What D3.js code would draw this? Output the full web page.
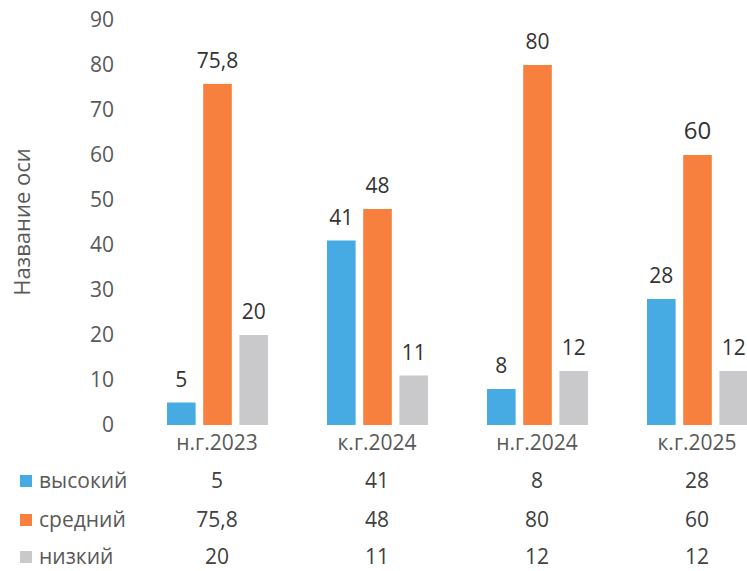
<!DOCTYPE html>
<html>
<head>
<meta charset="utf-8">
<script src="https://cdn.jsdelivr.net/npm/d3@7"></script>
<style>
  body { margin: 0; background: #fff; }
  text { font-family: "Open Sans", "DejaVu Sans", sans-serif; }
</style>
</head>
<body>
<div id="chart"></div>
<script>
// data
var categories = ["н.г.2023", "к.г.2024", "н.г.2024", "к.г.2025"];
var seriesNames = ["высокий", "средний", "низкий"];
var vysokiy = [5, 41, 8, 28];
var sredniy = [75.8, 48, 80, 60];
var nizkiy = [20, 11, 12, 12];
var valueLabels = [
  ["5", "41", "8", "28"],
  ["75,8", "48", "80", "60"],
  ["20", "11", "12", "12"]
];
var yTicks = [0, 10, 20, 30, 40, 50, 60, 70, 80, 90];
var colors = ["#45ABE2", "#F7803F", "#C9C9CB"];

var svgWidth = 747;
var svgHeight = 571;

var series = [vysokiy, sredniy, nizkiy];

var svg = d3.select("#chart")
    .append("svg")
    .attr("width", svgWidth)
    .attr("height", svgHeight);

var xScale = d3.scaleBand()
    .domain(categories)
    .range([137, 777]);

var inner = d3.scaleBand()
    .domain(seriesNames)
    .range([30, 131])
    .paddingInner(0.21);

var yScale = d3.scaleLinear()
    .domain([0, 90])
    .range([425, 20]);

// y axis labels (no line, no gridlines)
var leftAxis = d3.axisLeft(yScale).tickValues(yTicks).tickSize(0).tickPadding(0);
var yAxis = svg.append("g")
    .attr("transform", "translate(114,0)")
    .call(leftAxis);
yAxis.select(".domain").remove();
yAxis.selectAll("text")
    .attr("font-size", 21)
    .attr("font-family", "'Open Sans', sans-serif")
    .attr("fill", "#595959");

// axis title
svg.append("text")
    .attr("transform", "translate(30,222) rotate(-90)")
    .attr("text-anchor", "middle")
    .attr("font-size", 22)
    .attr("fill", "#595959")
    .text("Название оси");

// bars
series.forEach(function(vals, si) {
  var g = svg.append("g");
  g.selectAll("rect")
    .data(vals)
    .enter()
    .append("rect")
    .attr("x", function(d, i) { return xScale(categories[i]) + inner(seriesNames[si]); })
    .attr("y", function(d) { return yScale(d); })
    .attr("width", inner.bandwidth())
    .attr("height", function(d) { return yScale(0) - yScale(d); })
    .attr("fill", colors[si]);

  g.selectAll("text")
    .data(vals)
    .enter()
    .append("text")
    .attr("x", function(d, i) { return xScale(categories[i]) + inner(seriesNames[si]) + inner.bandwidth() / 2; })
    .attr("y", function(d) { return yScale(d) - 16; })
    .attr("text-anchor", "middle")
    .attr("font-size", function(d, i) { return (si === 1 && i === 3) ? 24 : 21; })
    .attr("fill", "#333")
    .text(function(d, i) { return valueLabels[si][i]; });
});

// category labels
var bottomAxis = d3.axisBottom(xScale).tickSize(0).tickPadding(0);
var xAxis = svg.append("g")
    .attr("transform", "translate(0,435)")
    .call(bottomAxis);
xAxis.select(".domain").remove();
xAxis.selectAll("text")
    .attr("font-size", 21)
    .attr("font-family", "'Open Sans', sans-serif")
    .attr("fill", "#595959");

// data table
var rowY = [481, 520, 557];
seriesNames.forEach(function(name, si) {
  var row = svg.append("g");
  row.append("rect")
    .attr("x", 20)
    .attr("y", rowY[si] - 6)
    .attr("width", 12)
    .attr("height", 12)
    .attr("fill", colors[si]);
  row.append("text")
    .attr("x", 39)
    .attr("y", rowY[si])
    .attr("dy", "0.35em")
    .attr("font-size", 21)
    .attr("fill", "#595959")
    .text(name);
  row.selectAll("text.val")
    .data(categories)
    .enter()
    .append("text")
    .attr("class", "val")
    .attr("x", function(c) { return xScale(c) + xScale.bandwidth() / 2; })
    .attr("y", rowY[si])
    .attr("dy", "0.35em")
    .attr("text-anchor", "middle")
    .attr("font-size", 21)
    .attr("fill", "#404040")
    .text(function(c, i) { return valueLabels[si][i]; });
});
</script>
</body>
</html>
